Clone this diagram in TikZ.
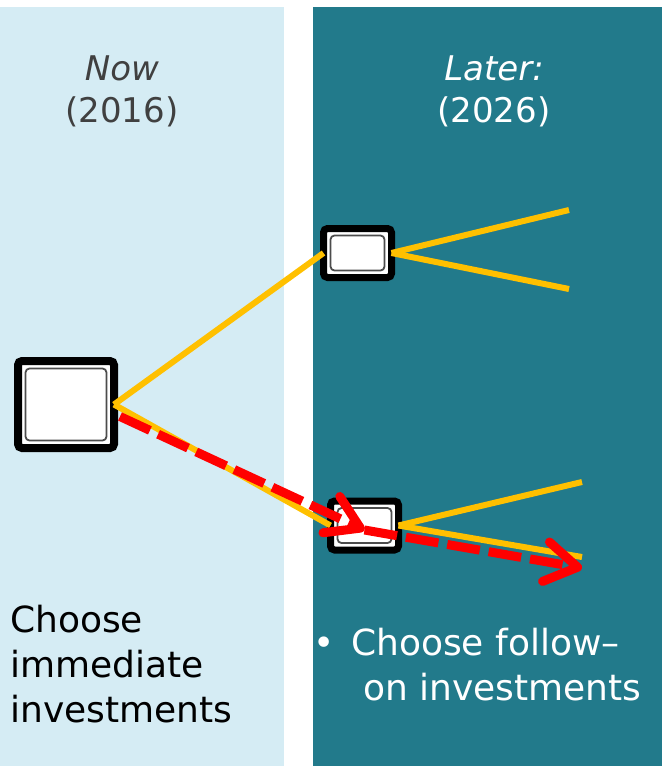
\documentclass[tikz,border=0pt]{standalone}
\usepackage{fontspec}
\setmainfont{DejaVu Sans}
\usetikzlibrary{arrows.meta}

\definecolor{nowblue}{RGB}{213,236,244}
\definecolor{laterteal}{RGB}{34,122,139}
\definecolor{branchyellow}{RGB}{255,192,0}
\definecolor{labelgray}{RGB}{64,64,64}

\tikzset{
  decision/.style={draw=black, fill=white, rounded corners=4pt,
    inner sep=0pt, outer sep=0pt,
    path picture={\draw[black!70, line width=1.8pt]
      ([shift={(#1,#1)}]path picture bounding box.south west) rectangle
      ([shift={(-#1,-#1)}]path picture bounding box.north east);}},
  branch/.style={branchyellow, line width=6pt},
  bestpath/.style={red, line width=9pt, dash pattern=on 33pt off 9pt,
    -{Straight Barb[length=32pt, width=40pt, line width=9pt, round]}},
  title/.style={inner sep=0pt, align=center, font=\fontsize{34}{42}\selectfont},
  note/.style={inner sep=0pt, align=left, anchor=base west, font=\fontsize{36}{45}\selectfont}
}

\begin{document}
\begin{tikzpicture}[x=1pt,y=-1pt]
	\useasboundingbox (0,0) rectangle (662,766);

	% Bakgrunn: naa og senere
	\fill[nowblue] (0,7) rectangle (284,766);
	\fill[laterteal] (313,7) rectangle (662,766);

	% Overskrifter (base = siste linje)
	\node[title, labelgray, anchor=base] (nowtitle) at (122,122) {\textit{Now}\\(2016)};
	\node[title, white, anchor=base] (latertitle) at (494,122) {\textit{Later:}\\(2026)};

	% Beslutningsnoder
	\node[decision=7.5pt, line width=8pt, minimum width=96pt, minimum height=87pt] (now) at (66,404.5) {};
	\node[decision=7pt, line width=7pt, minimum width=68pt, minimum height=49pt] (upper) at (357.5,253) {};
	\node[decision=7pt, line width=7pt, minimum width=68pt, minimum height=49pt] (lower) at (364.5,525.5) {};

	% Endepunkter for grenene
	\coordinate (upperhigh) at (569,210);
	\coordinate (upperlow) at (569,289);
	\coordinate (lowerhigh) at (582,482);
	\coordinate (lowerlow) at (582,557);
	\coordinate (goal) at (582,568);

	% Grener
	\draw[branch] (now.east) -- (upper.west);
	\draw[branch] (now.east) -- (lower.west);
	\draw[branch] (upper.east) -- (upperhigh);
	\draw[branch] (upper.east) -- (upperlow);
	\draw[branch] (lower.east) -- (lowerhigh);
	\draw[branch] (lower.east) -- (lowerlow);

	% Beste vei
	\draw[bestpath] ([xshift=6pt,yshift=-12pt]now.east) -- ([yshift=-4.5pt]lower.center);
	\draw[bestpath] ([yshift=-4.5pt]lower.center) -- (goal);

	% Tekst nederst
	\node[note] (nownote) at (10,722) {Choose\\immediate\\investments};
	\node[note, white] (laternote) at (313,700)
		{\makebox[38pt][l]{•}Choose follow–\\\hspace*{50pt}on investments};
\end{tikzpicture}
\end{document}
